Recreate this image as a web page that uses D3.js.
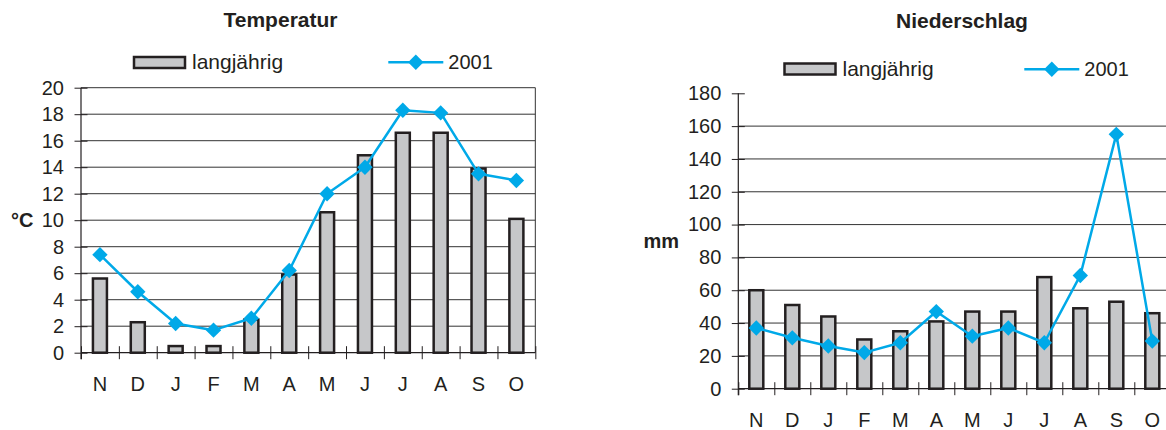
<!DOCTYPE html>
<html lang="de">
<head>
<meta charset="utf-8">
<title>Temperatur und Niederschlag</title>
<script src="https://cdn.jsdelivr.net/npm/d3@7"></script>
<style>
  html, body { margin: 0; padding: 0; background: #fff; }
  svg { display: block; font-family: "Liberation Sans", Arial, Helvetica, sans-serif; }
  .tick text { fill: #231f20; }
</style>
</head>
<body>
<svg id="chart" width="1166" height="430"></svg>
<script>
// Monate (November bis Oktober)
const months = ["N", "D", "J", "F", "M", "A", "M", "J", "J", "A", "S", "O"];

// Temperatur in °C
const tempLongTerm = [5.6, 2.3, 0.5, 0.5, 2.5, 5.9, 10.6, 14.9, 16.6, 16.6, 13.9, 10.1];
const temp2001     = [7.4, 4.6, 2.2, 1.7, 2.6, 6.2, 12.0, 14.0, 18.3, 18.1, 13.5, 13.0];
const tempTicks    = [0, 2, 4, 6, 8, 10, 12, 14, 16, 18, 20];

// Niederschlag in mm
const precipLongTerm = [60, 51, 44, 30, 35, 41, 47, 47, 68, 49, 53, 46];
const precip2001     = [37, 31, 26, 22, 28, 47, 32, 37, 28, 69, 155, 29];
const precipTicks    = [0, 20, 40, 60, 80, 100, 120, 140, 160, 180];

const seriesNames = ["langjährig", "2001"];

const INK = "#231f20";
const BAR_FILL = "#c6c7c9";
const LINE_COLOR = "#00a9e8";
const GRID = "#333";
const FONT = 20;

const svg = d3.select("#chart");

function diamond(sel, cx, cy) {
  sel.append("path")
    .attr("d", d3.symbol().type(d3.symbolSquare).size(118)())
    .attr("transform", `translate(${cx},${cy}) rotate(45)`)
    .attr("fill", LINE_COLOR);
}

function drawChart(cfg) {
  const g = svg.append("g");
  const n = months.length;
  const idx = d3.range(n);

  const x = d3.scaleBand().domain(idx).range([cfg.x0, cfg.x0 + cfg.step * n]).paddingInner(0).paddingOuter(0);
  const xb = d3.scaleLinear().domain([0, n]).range([cfg.x0, cfg.x0 + cfg.step * n]);
  const y = d3.scaleLinear().domain([0, d3.max(cfg.ticks)]).range([cfg.yBottom, cfg.yTop]);
  const xRight = Math.min(xb(n), cfg.clipRight);

  // horizontal grid lines
  g.append("g").selectAll("line")
    .data(cfg.gridTicks)
    .join("line")
    .attr("x1", cfg.x0).attr("x2", xRight)
    .attr("y1", d => y(d)).attr("y2", d => y(d))
    .attr("stroke", GRID).attr("stroke-width", 1);

  // right frame
  if (cfg.frame) {
    g.append("line")
      .attr("x1", xb(n)).attr("x2", xb(n))
      .attr("y1", y(d3.max(cfg.ticks))).attr("y2", cfg.yBottom)
      .attr("stroke", GRID).attr("stroke-width", 1);
  }

  // bars: long-term mean
  g.append("g").selectAll("rect")
    .data(cfg.bars)
    .join("rect")
    .attr("x", (d, i) => x(i) + x.bandwidth() / 2 - cfg.barW / 2)
    .attr("width", cfg.barW)
    .attr("y", d => y(d))
    .attr("height", d => y(0) - y(d))
    .attr("fill", BAR_FILL)
    .attr("stroke", INK)
    .attr("stroke-width", 2.5);

  // y axis: ticks crossing the axis line
  const yAxis = d3.axisLeft(y).tickValues(cfg.ticks).tickSize(13).tickPadding(10.5);
  const ya = g.append("g")
    .attr("transform", `translate(${cfg.x0 + 6.5},0)`)
    .call(yAxis);
  ya.select(".domain").remove();
  ya.selectAll(".tick line").attr("stroke", INK);
  ya.selectAll(".tick text").attr("font-size", FONT);

  g.append("line")
    .attr("x1", cfg.x0).attr("x2", cfg.x0)
    .attr("y1", y(d3.max(cfg.ticks))).attr("y2", cfg.yBottom + 6.5)
    .attr("stroke", INK).attr("stroke-width", 1.2);

  // x axis line and boundary ticks
  g.append("line")
    .attr("x1", cfg.x0).attr("x2", xRight)
    .attr("y1", cfg.yBottom).attr("y2", cfg.yBottom)
    .attr("stroke", INK).attr("stroke-width", 1.2);

  const xTickAxis = d3.axisBottom(xb).tickValues(d3.range(n + 1)).tickSize(13).tickFormat("");
  const xt = g.append("g")
    .attr("transform", `translate(0,${cfg.yBottom - 6.5})`)
    .call(xTickAxis);
  xt.select(".domain").remove();
  xt.selectAll(".tick line").attr("stroke", INK);

  // month labels
  const xLab = d3.axisBottom(x).tickSize(0).tickPadding(24).tickFormat(i => months[i]);
  const xl = g.append("g")
    .attr("transform", `translate(0,${cfg.yBottom})`)
    .call(xLab);
  xl.select(".domain").remove();
  xl.selectAll(".tick text").attr("font-size", FONT);

  // 2001 line
  const line = d3.line()
    .x((d, i) => x(i) + x.bandwidth() / 2)
    .y(d => y(d));
  g.append("path")
    .datum(cfg.line)
    .attr("d", line)
    .attr("fill", "none")
    .attr("stroke", LINE_COLOR)
    .attr("stroke-width", 2.5)
    .attr("stroke-linejoin", "round");
  cfg.line.forEach((v, i) => diamond(g, x(i) + x.bandwidth() / 2, y(v)));

  // title
  g.append("text")
    .attr("x", cfg.titleX).attr("y", cfg.titleY)
    .attr("text-anchor", "middle")
    .attr("font-size", 21).attr("font-weight", "bold")
    .attr("fill", INK)
    .text(cfg.title);

  // unit label
  g.append("text")
    .attr("x", cfg.unitX).attr("y", (cfg.yBottom + y(d3.max(cfg.ticks))) / 2)
    .attr("dy", "0.35em")
    .attr("text-anchor", "end")
    .attr("font-size", FONT).attr("font-weight", "bold")
    .attr("fill", INK)
    .text(cfg.unit);

  // legend
  const L = cfg.legend;
  g.append("rect")
    .attr("x", L.rectX).attr("y", L.rectY)
    .attr("width", 51).attr("height", 11)
    .attr("fill", BAR_FILL).attr("stroke", INK).attr("stroke-width", 2.5);
  g.append("text")
    .attr("x", L.rectX + 58).attr("y", L.baseline)
    .attr("font-size", 21).attr("fill", INK)
    .text(seriesNames[0]);
  g.append("line")
    .attr("x1", L.lineX).attr("x2", L.lineX + 55)
    .attr("y1", L.lineY).attr("y2", L.lineY)
    .attr("stroke", LINE_COLOR).attr("stroke-width", 2.5);
  diamond(g, L.lineX + 27.5, L.lineY);
  g.append("text")
    .attr("x", L.lineX + 60).attr("y", L.baseline)
    .attr("font-size", FONT).attr("fill", INK)
    .text(seriesNames[1]);
}

drawChart({
  title: "Temperatur", titleX: 280.5, titleY: 27,
  unit: "°C", unitX: 33.5,
  bars: tempLongTerm, line: temp2001,
  ticks: tempTicks, gridTicks: tempTicks.filter(t => t > 0),
  x0: 81, step: 37.86, yBottom: 352.7, yTop: 87.7,
  barW: 14, frame: true, clipRight: 1166,
  legend: { rectX: 134, rectY: 57, baseline: 69, lineX: 388.3, lineY: 62.3 }
});

drawChart({
  title: "Niederschlag", titleX: 962, titleY: 28,
  unit: "mm", unitX: 679,
  bars: precipLongTerm, line: precip2001,
  ticks: precipTicks, gridTicks: precipTicks.filter(t => t > 0 && t < 180),
  x0: 738.3, step: 36, yBottom: 388.7, yTop: 93.3,
  barW: 14, frame: false, clipRight: 1166,
  legend: { rectX: 784.5, rectY: 63.5, baseline: 76, lineX: 1024.3, lineY: 69.3 }
});
</script>
</body>
</html>
